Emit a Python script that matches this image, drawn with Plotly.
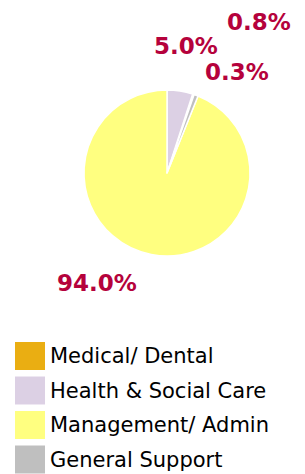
import plotly.graph_objects as go

categories = ["Medical/ Dental", "Health & Social Care", "Management/ Admin", "General Support"]
values = [0.3, 5.0, 94.0, 0.8]
colors = ["#EAAE12", "#DCD0E4", "#FFFF80", "#BFBFBF"]

W, H = 297, 466   # page body has an 8px margin
OFF = 8


def px(x):
    return (x - OFF) / W


def py(y):
    return 1 - (y - OFF) / H


# label anchor positions (reference pixels) for each slice's percentage text
label_pos = [(237, 72), (186, 46), (97, 283), (259, 22)]
label_color = "#B5023C"

fig = go.Figure()
fig.add_trace(go.Pie(
    labels=categories,
    values=values,
    sort=False,
    direction="counterclockwise",
    rotation=18,
    marker=dict(colors=colors, line=dict(color="white", width=1.5)),
    textinfo="none",
    hoverinfo="label+value",
    showlegend=False,
    domain=dict(x=[px(84), px(250)], y=[py(256), py(90)]),
))

annotations = []
for v, (x, y) in zip(values, label_pos):
    annotations.append(dict(
        x=px(x), y=py(y), xref="paper", yref="paper", text=f"{v:.1f}%", showarrow=False,
        xanchor="center", yanchor="middle",
        font=dict(family="DejaVu Sans", size=23, color=label_color, weight="bold"),
    ))

shapes = []
row_top = 342
row_h = 34.5
for i, (cat, col) in enumerate(zip(categories, colors)):
    top = row_top + i * row_h
    shapes.append(dict(type="rect", xref="paper", yref="paper",
                       x0=px(15), x1=px(45), y0=py(top + 28), y1=py(top),
                       fillcolor=col, line=dict(width=0)))
    annotations.append(dict(
        x=px(48), y=py(top + 14), xref="paper", yref="paper", text=cat, showarrow=False,
        xanchor="left", yanchor="middle",
        font=dict(family="DejaVu Sans", size=21, color="black"),
    ))

fig.update_layout(
    width=W, height=H,
    margin=dict(l=0, r=0, t=0, b=0),
    paper_bgcolor="white", plot_bgcolor="white",
    annotations=annotations, shapes=shapes,
)
fig.write_html("out.html")
